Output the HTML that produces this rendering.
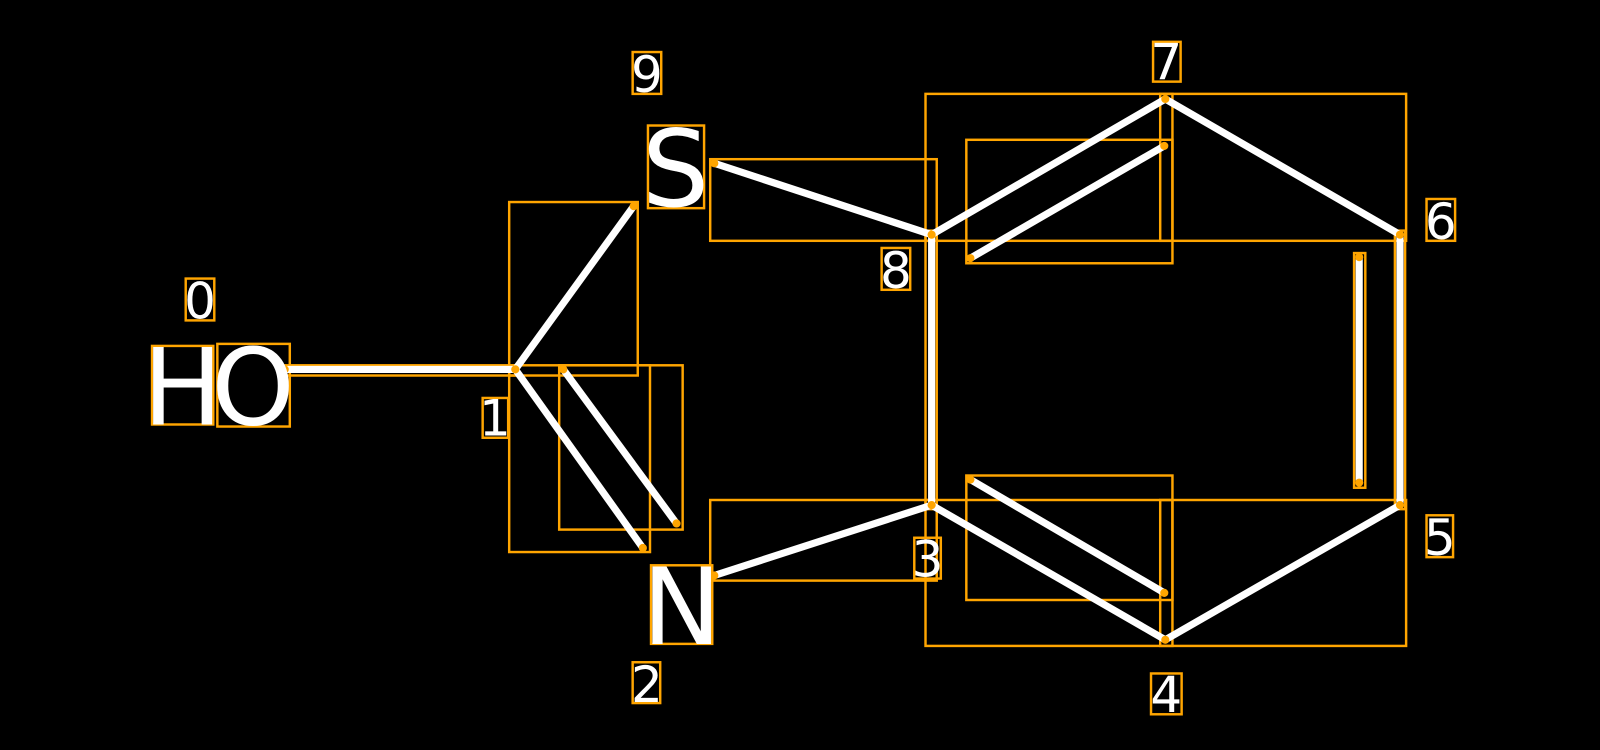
<!DOCTYPE html>
<html><head><style>html,body{margin:0;padding:0;background:#000;width:1600px;height:750px;overflow:hidden}</style></head>
<body>
<svg width="1600" height="750" viewBox="0 0 1568 735" xmlns="http://www.w3.org/2000/svg" style="display:block;background:#000">
<g fill="none" stroke="#FFA500" stroke-width="2.4">
<rect x="149" y="339" width="60" height="77"/>
<rect x="213" y="337" width="71" height="81"/>
<rect x="182" y="273" width="28" height="41"/>
<rect x="276" y="358" width="231" height="10"/>
<rect x="473" y="390" width="25" height="39"/>
<rect x="499" y="198" width="126" height="170"/>
<rect x="499" y="358" width="138" height="183"/>
<rect x="548" y="358" width="121" height="161"/>
<rect x="635" y="123" width="55" height="81"/>
<rect x="620" y="51" width="28" height="41"/>
<rect x="696" y="156" width="222" height="80"/>
<rect x="864" y="243" width="28" height="41"/>
<rect x="907" y="92" width="242" height="144"/>
<rect x="1137" y="92" width="241" height="144"/>
<rect x="947" y="137" width="202" height="121"/>
<rect x="1130" y="41" width="27" height="39"/>
<rect x="1398" y="195" width="28" height="41"/>
<rect x="1367" y="226" width="10" height="273"/>
<rect x="1327" y="248" width="11" height="230"/>
<rect x="1398" y="505" width="26" height="41"/>
<rect x="1137" y="490" width="241" height="143"/>
<rect x="907" y="490" width="242" height="143"/>
<rect x="947" y="466" width="202" height="122"/>
<rect x="1128" y="660" width="30" height="40"/>
<rect x="896" y="527" width="26" height="40"/>
<rect x="907" y="226" width="11" height="273"/>
<rect x="696" y="490" width="222" height="79"/>
<rect x="638" y="554" width="60" height="77"/>
<rect x="620" y="649" width="27" height="40"/>
</g>
<g stroke="#fff" stroke-width="7" stroke-linecap="butt">
<line x1="279" y1="362" x2="505" y2="362"/>
<line x1="505" y1="362" x2="621" y2="202"/>
<line x1="505" y1="362" x2="630" y2="537"/>
<line x1="552" y1="362" x2="663" y2="513"/>
<line x1="700" y1="160" x2="913" y2="230"/>
<line x1="913" y1="230" x2="1142" y2="97"/>
<line x1="951" y1="253" x2="1141" y2="143"/>
<line x1="1142" y1="97" x2="1372" y2="230"/>
<line x1="1372" y1="230" x2="1372" y2="495"/>
<line x1="1332" y1="252" x2="1332" y2="473"/>
<line x1="1372" y1="495" x2="1142" y2="627"/>
<line x1="1142" y1="627" x2="913" y2="495"/>
<line x1="951" y1="470" x2="1141" y2="581"/>
<line x1="913" y1="495" x2="913" y2="230"/>
<line x1="913" y1="495" x2="700" y2="564"/>
</g>
<g fill="#FFA500">
<circle cx="279" cy="362" r="4"/><circle cx="505" cy="362" r="4"/><circle cx="621" cy="202" r="4"/>
<circle cx="630" cy="537" r="4"/><circle cx="552" cy="362" r="4"/><circle cx="663" cy="513" r="4"/>
<circle cx="700" cy="160" r="4"/><circle cx="913" cy="230" r="4"/><circle cx="1142" cy="97" r="4"/>
<circle cx="951" cy="253" r="4"/><circle cx="1141" cy="143" r="4"/><circle cx="1372" cy="230" r="4"/>
<circle cx="1372" cy="495" r="4"/><circle cx="1332" cy="252" r="4"/><circle cx="1332" cy="473" r="4"/>
<circle cx="1142" cy="627" r="4"/><circle cx="913" cy="495" r="4"/><circle cx="951" cy="470" r="4"/>
<circle cx="1141" cy="581" r="4"/><circle cx="700" cy="564" r="4"/>
</g>
<g fill="#fff" font-family="'DejaVu Sans','Liberation Sans',sans-serif" text-anchor="middle">
<text x="179" y="416" font-size="104">H</text>
<text x="248" y="416" font-size="104">O</text>
<text x="662" y="202" font-size="104">S</text>
<text x="668" y="631" font-size="104">N</text>
<g font-size="49">
<text x="196" y="312">0</text>
<text x="485" y="427">1</text>
<text x="634" y="688">2</text>
<text x="909" y="565">3</text>
<text x="1143" y="698">4</text>
<text x="1411" y="544">5</text>
<text x="1412" y="234">6</text>
<text x="1143" y="78">7</text>
<text x="878" y="282">8</text>
<text x="634" y="90">9</text>
</g>
</g>
</svg>
</body></html>
